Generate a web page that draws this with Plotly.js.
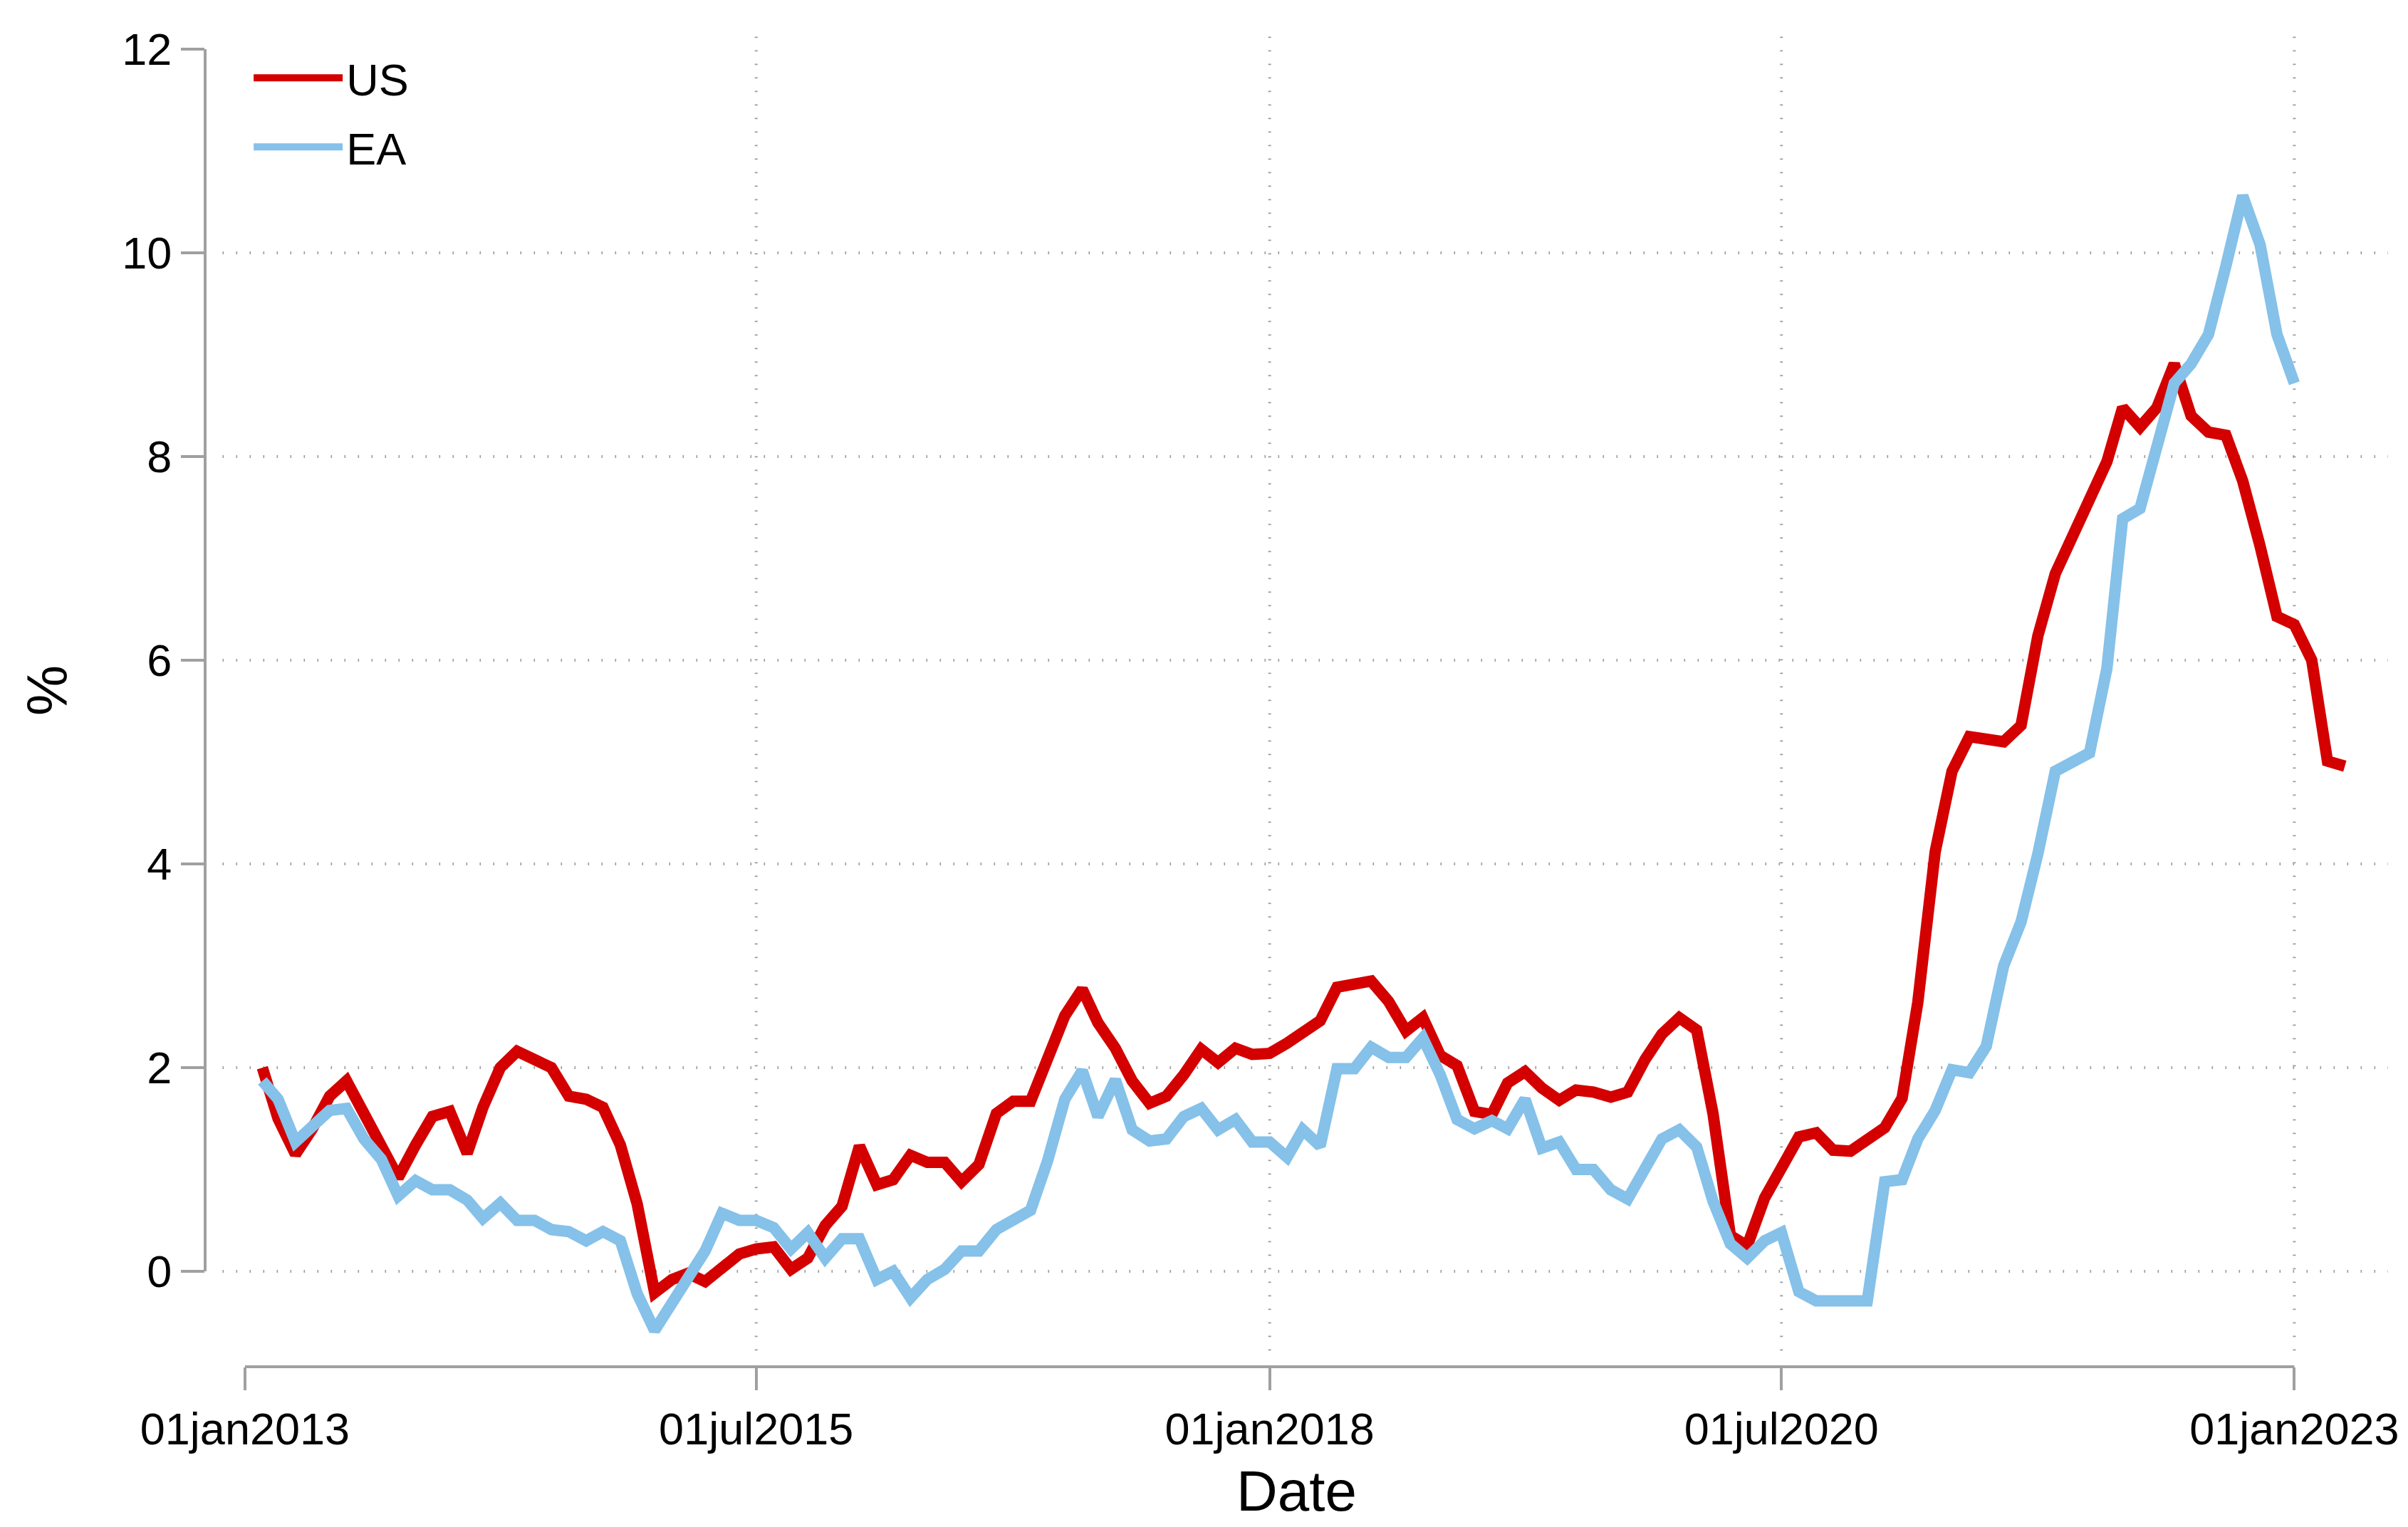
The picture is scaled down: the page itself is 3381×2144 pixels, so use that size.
<!DOCTYPE html>
<html>
<head>
<meta charset="utf-8">
<script src="https://cdn.plot.ly/plotly-3.0.1.min.js"></script>
<style>html,body{margin:0;padding:0;background:#fff;}#chart{width:3381px;height:2144px;}</style>
</head>
<body>
<div id="chart"></div>
<script>
// ---- data ----
const usStart = '2013-02';   // first month of US series
const eaStart = '2013-02';   // first month of EA series

const usValues = [
  // 2013 Feb-Dec
  2.00, 1.50, 1.15, 1.40, 1.72, 1.87, 1.55, 1.20, 0.92, 1.24, 1.52,
  // 2014
  1.57, 1.16, 1.61, 2.00, 2.16, 2.08, 2.00, 1.72, 1.69, 1.61, 1.24, 0.66,
  // 2015
  -0.21, -0.08, -0.02, -0.10, 0.02, 0.17, 0.22, 0.24, 0.02, 0.13, 0.45, 0.64,
  // 2016
  1.23, 0.85, 0.90, 1.14, 1.07, 1.07, 0.88, 1.05, 1.55, 1.67, 1.67, 2.05,
  // 2017
  2.51, 2.77, 2.44, 2.19, 1.87, 1.65, 1.72, 1.93, 2.18, 2.05, 2.19, 2.13,
  // 2018
  2.14, 2.24, 2.34, 2.46, 2.79, 2.81, 2.85, 2.65, 2.36, 2.49, 2.12, 2.02,
  // 2019
  1.57, 1.54, 1.85, 1.96, 1.80, 1.68, 1.78, 1.76, 1.71, 1.76, 2.08, 2.33,
  // 2020
  2.49, 2.37, 1.55, 0.35, 0.25, 0.72, 1.03, 1.32, 1.36, 1.19, 1.18, 1.31,
  // 2021
  1.41, 1.70, 2.64, 4.12, 4.91, 5.25, 5.23, 5.20, 5.36, 6.24, 6.85, 7.20,
  // 2022
  7.60, 7.95, 8.48, 8.29, 8.48, 8.91, 8.40, 8.24, 8.21, 7.76, 7.12, 6.43,
  // 2023 Jan-Apr
  6.35, 6.00, 5.01, 4.96
];

const eaValues = [
  // 2013 Feb-Dec
  1.87, 1.69, 1.27, 1.41, 1.58, 1.60, 1.30, 1.10, 0.74, 0.89, 0.80,
  // 2014
  0.80, 0.70, 0.52, 0.67, 0.50, 0.50, 0.41, 0.39, 0.30, 0.39, 0.30, -0.22,
  // 2015
  -0.58, -0.30, -0.07, 0.20, 0.57, 0.50, 0.50, 0.43, 0.22, 0.38, 0.13, 0.32,
  // 2016
  0.32, -0.08, 0.00, -0.26, -0.08, 0.02, 0.20, 0.20, 0.41, 0.51, 0.60, 1.08,
  // 2017
  1.69, 1.97, 1.52, 1.88, 1.39, 1.28, 1.30, 1.52, 1.60, 1.39, 1.49, 1.27,
  // 2018
  1.27, 1.12, 1.39, 1.23, 1.99, 1.99, 2.20, 2.10, 2.10, 2.29, 1.93, 1.49,
  // 2019
  1.40, 1.48, 1.40, 1.69, 1.21, 1.27, 1.00, 1.00, 0.80, 0.71, 1.00, 1.30,
  // 2020
  1.39, 1.22, 0.69, 0.27, 0.13, 0.30, 0.38, -0.20, -0.29, -0.29, -0.29, -0.29,
  // 2021
  0.88, 0.90, 1.30, 1.58, 1.98, 1.95, 2.21, 3.00, 3.43, 4.10, 4.91, 5.01,
  // 2022
  5.09, 5.92, 7.39, 7.49, 8.08, 8.72, 8.91, 9.20, 9.87, 10.56, 10.08, 9.20,
  // 2023 Jan
  8.72
];

const seriesNames = ['US', 'EA'];
const xTitle = 'Date';
const yTitle = '%';
const xTickVals = ['2013-01-01', '2015-07-01', '2018-01-01', '2020-07-01', '2023-01-01'];
const xTickText = ['01jan2013', '01jul2015', '01jan2018', '01jul2020', '01jan2023'];
const xGridVals = ['2015-07-01', '2018-01-01', '2020-07-01', '2023-01-01'];
const yTickVals = [0, 2, 4, 6, 8, 10, 12];
const yGridVals = [0, 2, 4, 6, 8, 10];

// ---- helpers ----
function monthDates(startYM, n) {
  let [y, m] = startYM.split('-').map(Number);
  const out = [];
  for (let i = 0; i < n; i++) {
    out.push(y + '-' + String(m).padStart(2, '0') + '-01');
    m++; if (m > 12) { m = 1; y++; }
  }
  return out;
}

const usDates = monthDates(usStart, usValues.length);
const eaDates = monthDates(eaStart, eaValues.length);

const RED = '#d40000';
const BLUE = '#85c1e9';
const AXIS = '#a0a0a0';
const GRID = '#9a9a9a';
const FONT = 'Liberation Sans, Arial, Helvetica, sans-serif';
const GRID_DASH = '1.6px,17.4px';

const traces = [
  {x: usDates, y: usValues, name: seriesNames[0], type: 'scatter', mode: 'lines',
   line: {color: RED, width: 16}, legendgroup: 'g1'},
  {x: eaDates, y: eaValues, name: seriesNames[1], type: 'scatter', mode: 'lines',
   line: {color: BLUE, width: 16}, legendgroup: 'g2'}
];

const shapes = [];
yGridVals.forEach(v => shapes.push({type: 'line', xref: 'paper', yref: 'y', x0: 0.008, x1: 1, y0: v, y1: v,
  layer: 'below', line: {color: GRID, width: 4, dash: GRID_DASH}}));
xGridVals.forEach(v => shapes.push({type: 'line', xref: 'x', yref: 'paper', x0: v, x1: v, y0: 0.012, y1: 0.99,
  layer: 'below', line: {color: GRID, width: 4, dash: GRID_DASH}}));
// axis lines (Stata style: each axis line spans first to last tick)
shapes.push({type: 'line', xref: 'paper', yref: 'y', x0: 0, x1: 0, y0: yTickVals[0], y1: yTickVals[yTickVals.length - 1],
  layer: 'above', line: {color: AXIS, width: 4}});
shapes.push({type: 'line', xref: 'x', yref: 'paper', x0: xTickVals[0], x1: xTickVals[xTickVals.length - 1], y0: 0, y1: 0,
  layer: 'above', line: {color: AXIS, width: 4}});

const layout = {
  width: 3381, height: 2144,
  paper_bgcolor: '#ffffff', plot_bgcolor: '#ffffff',
  margin: {l: 288, r: 28, t: 20, b: 225, pad: 0},
  font: {family: FONT, color: '#000000', size: 63},
  showlegend: true,
  legend: {x: 0.0206, y: 0.978, xanchor: 'left', yanchor: 'top', bgcolor: 'rgba(0,0,0,0)',
           font: {family: FONT, size: 63, color: '#000'}, itemwidth: 125, tracegroupgap: 12,
           traceorder: 'grouped'},
  xaxis: {
    type: 'date', range: ['2012-10-22', '2023-06-17'],
    tickmode: 'array', tickvals: xTickVals, ticktext: xTickText,
    ticks: 'outside', ticklen: 32, tickwidth: 4, tickcolor: AXIS,
    tickfont: {family: FONT, size: 63, color: '#000'},
    showgrid: false, zeroline: false, showline: false
  },
  yaxis: {
    range: [-0.937, 12.343],
    tickmode: 'array', tickvals: yTickVals,
    ticks: 'outside', ticklen: 33, tickwidth: 4, tickcolor: AXIS,
    tickfont: {family: FONT, size: 63, color: '#000'},
    showgrid: false, zeroline: false, showline: false,
    title: {text: yTitle, font: {family: FONT, size: 80, color: '#000'}, standoff: 50}
  },
  annotations: [
    {text: xTitle, xref: 'paper', yref: 'paper', x: 0.5, y: -0.0918, xanchor: 'center', yanchor: 'middle',
     showarrow: false, borderpad: 0, font: {family: FONT, size: 80, color: '#000'}}
  ],
  shapes: shapes
};

Plotly.newPlot('chart', traces, layout, {staticPlot: true, displayModeBar: false});
</script>
</body>
</html>
